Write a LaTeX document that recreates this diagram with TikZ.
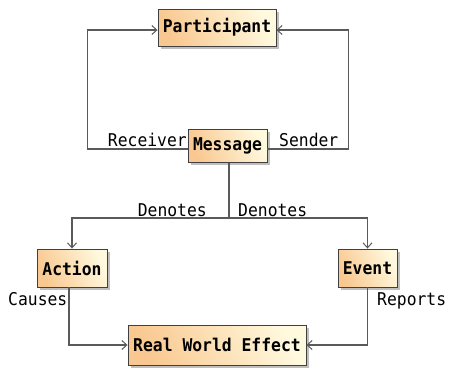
\documentclass[tikz,border=0pt]{standalone}
\usepackage{fontspec}
\setmonofont[FakeStretch=0.93]{DejaVu Sans Mono}
\usetikzlibrary{arrows.meta,shadows}
\definecolor{boxL}{HTML}{F9C890}
\definecolor{boxR}{HTML}{FFF9DE}
\definecolor{edge}{HTML}{5A5A5A}
\definecolor{frame}{HTML}{404040}
\tikzset{
  entity/.style={draw=frame, line width=0.9pt, bottom color=boxL, top color=boxR,
    shading angle=-65, inner sep=0pt,
    font=\ttfamily\bfseries\fontsize{17.6}{19}\selectfont,
    drop shadow={shadow xshift=2.5pt, shadow yshift=-2.5pt, fill=black, opacity=0.25}},
  conn/.style={draw=edge, line width=1.1pt, -{Straight Barb[length=5pt,width=9pt,line width=1pt]}},
  lbl/.style={inner sep=0pt, text=black, font=\ttfamily\fontsize{17.6}{19}\selectfont}
}
\begin{document}
\begin{tikzpicture}[x=1pt, y=-1pt]
  \useasboundingbox (0,0) rectangle (449,368);
  % entities
  \node[entity, minimum width=118pt, minimum height=37pt] (part) at (217,27.5) {Participant};
  \node[entity, minimum width=79pt, minimum height=33pt] (msg) at (227.5,146) {Message};
  \node[entity, minimum width=70pt, minimum height=38pt] (act) at (72,268) {Action};
  \node[entity, minimum width=59pt, minimum height=38pt] (evt) at (367.5,268) {Event};
  \node[entity, minimum width=178pt, minimum height=40pt] (rwe) at (217,345) {Real World Effect};
  % message to participant
  \draw[conn] ([yshift=-3pt]msg.west) -- ++(-100,0) |- ([yshift=-2.5pt]part.west);
  \draw[conn] ([yshift=-3pt]msg.east) -- ++(81,0) |- ([yshift=-2.5pt]part.east);
  % message denotes action / event
  \coordinate (split) at (229,218);
  \draw[draw=edge, line width=1.1pt] ([xshift=1.5pt]msg.south) -- (split);
  \draw[conn] (split) -| (act.north);
  \draw[conn] (split) -| (evt.north);
  % effects
  \draw[conn] ([xshift=-3pt]act.south) |- (rwe.west);
  \draw[conn] (evt.south) |- (rwe.east);
  % labels
  \node[lbl, anchor=base east] (lrecv) at (187,146) {Receiver};
  \node[lbl, anchor=base west] (lsend) at (279,146) {Sender};
  \node[lbl, anchor=base east] (lden1) at (207,216) {Denotes};
  \node[lbl, anchor=base west] (lden2) at (238,216) {Denotes};
  \node[lbl, anchor=base west] (lcause) at (8,305) {Causes};
  \node[lbl, anchor=base west] (lrep) at (377,305) {Reports};
\end{tikzpicture}
\end{document}
